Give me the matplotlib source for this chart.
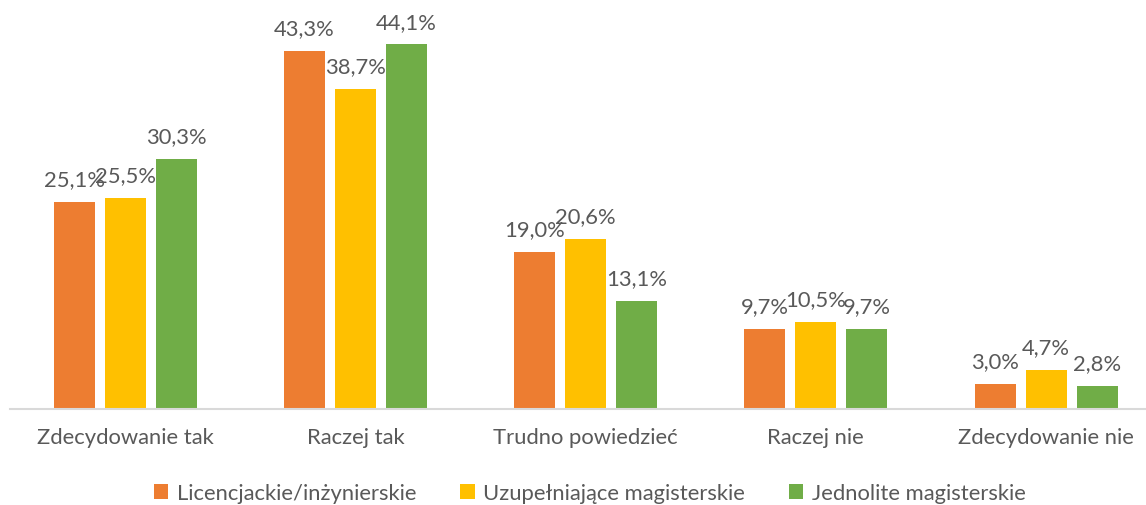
import matplotlib.pyplot as plt
import numpy as np

plt.rcParams["font.family"] = ["Lato", "DejaVu Sans"]

categories = ["Zdecydowanie tak", "Raczej tak", "Trudno powiedzieć",
              "Raczej nie", "Zdecydowanie nie"]
series_names = ["Licencjackie/inżynierskie", "Uzupełniające magisterskie",
                "Jednolite magisterskie"]
licencjackie = [25.1, 43.3, 19.0, 9.7, 3.0]
uzupelniajace = [25.5, 38.7, 20.6, 10.5, 4.7]
jednolite = [30.3, 44.1, 13.1, 9.7, 2.8]

colors = ["#ED7D31", "#FFC000", "#70AD47"]
text_color = "#595959"

fig = plt.figure(figsize=(11.46, 5.06), dpi=100)
ax = fig.add_axes([10 / 1146, 1 - 410 / 506, 1 - 10 / 1146, 410 / 506])

x = np.arange(len(categories))
width = 0.178
step = 0.2215
for i, (vals, name, col) in enumerate(zip([licencjackie, uzupelniajace, jednolite],
                                          series_names, colors)):
    pos = x + (i - 1) * step
    ax.bar(pos, vals, width, color=col, label=name)
    for xp, v in zip(pos, vals):
        ax.annotate(f"{v:.1f}%".replace(".", ","), (xp, v),
                    xytext=(0, 12), textcoords="offset points",
                    ha="center", va="baseline", fontsize=15.8, color=text_color)

ax.set_xlim(-0.5, 4.434)
ax.set_ylim(0, 49.6)
ax.set_yticks([])
ax.set_xticks(x)
ax.set_xticklabels(categories, fontsize=15.8, color=text_color)
ax.tick_params(axis="x", length=0, pad=13)
for side in ["top", "right", "left"]:
    ax.spines[side].set_visible(False)
ax.spines["bottom"].set_color("#D9D9D9")
ax.spines["bottom"].set_linewidth(1.5)

leg = fig.legend(loc="center", bbox_to_anchor=(590 / 1146, 1 - 494 / 506),
                 ncol=3, frameon=False, fontsize=15.8, handlelength=0.65,
                 handleheight=0.65, handletextpad=0.4, columnspacing=2.0)
for t in leg.get_texts():
    t.set_color(text_color)

fig.savefig("out.png", dpi=100)
